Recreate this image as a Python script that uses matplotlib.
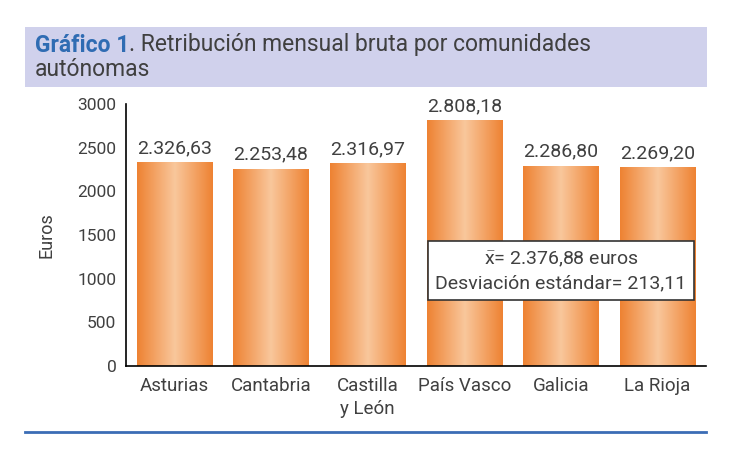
import numpy as np
import matplotlib.pyplot as plt
from matplotlib.patches import Rectangle
from matplotlib.colors import LinearSegmentedColormap

# datos
comunidades = ["Asturias", "Cantabria", "Castilla\ny León", "País Vasco", "Galicia", "La Rioja"]
retribucion = [2326.63, 2253.48, 2316.97, 2808.18, 2286.80, 2269.20]
etiquetas = ["2.326,63", "2.253,48", "2.316,97", "2.808,18", "2.286,80", "2.269,20"]
yticks = [0, 500, 1000, 1500, 2000, 2500, 3000]

fuente = ["Roboto", "DejaVu Sans"]
plt.rcParams["font.family"] = fuente
plt.rcParams["mathtext.fontset"] = "custom"
plt.rcParams["mathtext.rm"] = "Roboto"
gris = "#404040"

fig = plt.figure(figsize=(7.3, 4.5), dpi=100)
ax = fig.add_axes([126 / 730, 1 - 366 / 450, 580 / 730, 262 / 450])

# degradado naranja en las barras
cmap = LinearSegmentedColormap.from_list("naranja", ["#ee8232", "#f9c79c", "#ee8232"])
grad = np.linspace(0, 1, 256).reshape(1, -1)
ancho = 0.78
x = np.arange(len(comunidades))
for xi, v, lab in zip(x, retribucion, etiquetas):
    ax.imshow(grad, cmap=cmap, aspect="auto", extent=(xi - ancho / 2, xi + ancho / 2, 0, v), zorder=2)
    ax.annotate(lab, (xi, v), xytext=(0, 4), textcoords="offset points",
                ha="center", va="bottom", fontsize=14, color=gris)

ax.set_xlim(-0.5, len(comunidades) - 0.5)
ax.set_ylim(0, 3000)
ax.set_yticks(yticks)
ax.set_yticklabels([str(t) for t in yticks], fontsize=12.5, color=gris)
ax.set_xticks(x)
ax.set_xticklabels(comunidades, fontsize=13.5, color=gris, linespacing=1.35)
ax.tick_params(axis="y", length=0, pad=7)
ax.tick_params(axis="x", length=0, pad=8)
ax.set_ylabel("Euros", fontsize=13, color=gris, labelpad=16)
for s in ["top", "right"]:
    ax.spines[s].set_visible(False)
ax.spines["left"].set_linewidth(1.2)
ax.spines["bottom"].set_linewidth(1.2)

# cuadro con media y desviación
ax.text(0.75, 0.363, "$\\bar{\\mathrm{x}}$= 2.376,88 euros\nDesviación estándar= 213,11",
        transform=ax.transAxes, ha="center", va="center", fontsize=14, color=gris,
        linespacing=1.4, zorder=5,
        bbox=dict(boxstyle="square,pad=0.4", facecolor="white", edgecolor="#333333", linewidth=1.2))

# cabecera
fig.patches.append(Rectangle((25 / 730, 1 - 87 / 450), 682 / 730, 60 / 450,
                             transform=fig.transFigure, facecolor="#d0d1ec", edgecolor="none", zorder=0))
t1 = fig.text(35 / 730, 1 - 45 / 450, "Gráfico 1", fontsize=16.5, fontweight="bold",
              color="#2f6cb3", va="center", ha="left")
fig.canvas.draw()
bb = t1.get_window_extent()
fig.text(bb.x1 / 730, 1 - 45 / 450, ". Retribución mensual bruta por comunidades", fontsize=16.5,
         color=gris, va="center", ha="left")
fig.text(35 / 730, 1 - 69 / 450, "autónomas", fontsize=16.5, color=gris, va="center", ha="left")

# línea inferior
fig.add_artist(plt.Line2D([25 / 730, 706 / 730], [1 - 432 / 450, 1 - 432 / 450],
                          transform=fig.transFigure, color="#3b6db5", linewidth=2))

fig.savefig("out.png", dpi=100)
